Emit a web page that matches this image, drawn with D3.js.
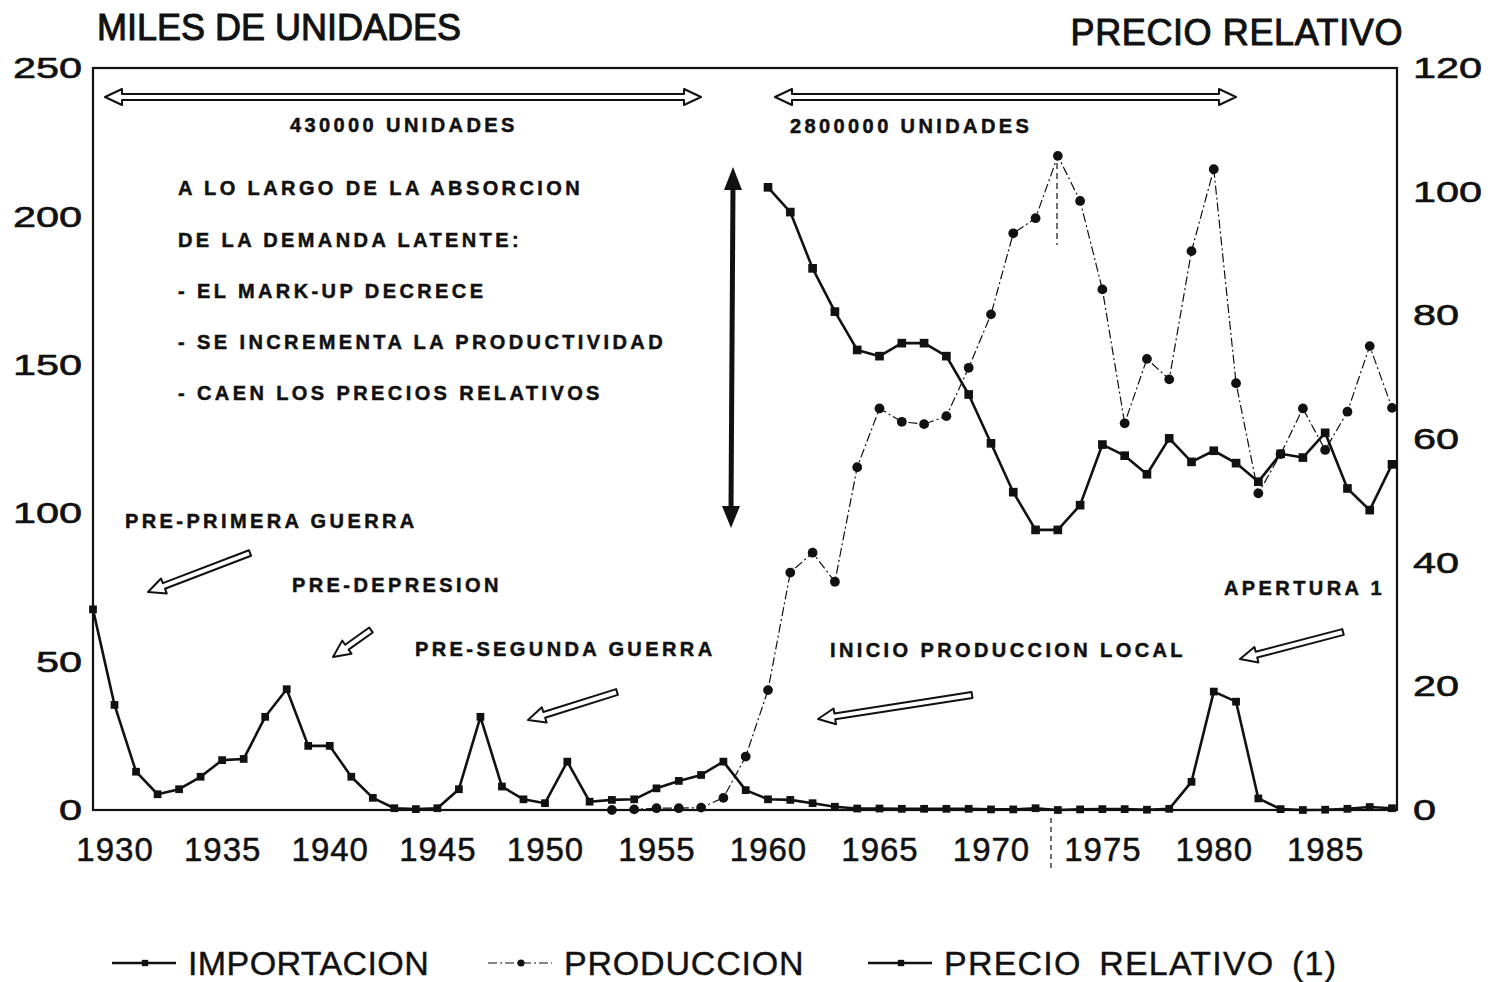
<!DOCTYPE html>
<html>
<head>
<meta charset="utf-8">
<script src="https://cdn.jsdelivr.net/npm/d3@7/dist/d3.min.js"></script>
<style>
  body { margin: 0; background: #fff; }
  svg text { font-family: "Liberation Sans", Arial, sans-serif; fill: #111; }
  .note { font-weight: bold; font-size: 20px; letter-spacing: 3.4px; stroke: #111; stroke-width: 0.5px; }
</style>
</head>
<body>
<div id="chart"></div>
<script>
// importaciones (miles de unidades)
const importYears = [1929, 1930, 1931, 1932, 1933, 1934, 1935, 1936, 1937, 1938, 1939, 1940,
    1941, 1942, 1943, 1944, 1945, 1946, 1947, 1948, 1949, 1950, 1951, 1952, 1953, 1954, 1955,
    1956, 1957, 1958, 1959, 1960, 1961, 1962, 1963, 1964, 1965, 1966, 1967, 1968, 1969, 1970,
    1971, 1972, 1973, 1974, 1975, 1976, 1977, 1978, 1979, 1980, 1981, 1982, 1983, 1984, 1985,
    1986, 1987, 1988];
const importacion = [67.6, 35.4, 12.9, 5.3, 7.0, 11.2, 16.8, 17.2, 31.4, 40.7, 21.6, 21.6,
    11.2, 4.1, 0.6, 0.3, 0.6, 7.0, 31.4, 7.9, 3.6, 2.3, 16.3, 2.8, 3.4, 3.6, 7.3,
    9.8, 11.8, 16.3, 6.7, 3.6, 3.4, 2.3, 1.1, 0.5, 0.5, 0.4, 0.4, 0.4, 0.4, 0.2,
    0.2, 0.6, 0.0, 0.2, 0.3, 0.3, 0.1, 0.4, 9.5, 39.9, 36.5, 3.9, 0.3, 0.0, 0.1,
    0.4, 1.0, 0.6];

// produccion local (miles de unidades)
const prodYears = [1953, 1954, 1955, 1956, 1957, 1958, 1959, 1960, 1961, 1962, 1963, 1964,
    1965, 1966, 1967, 1968, 1969, 1970, 1971, 1972, 1973, 1974, 1975, 1976, 1977, 1978,
    1979, 1980, 1981, 1982, 1983, 1984, 1985, 1986, 1987, 1988];
const produccion = [0.0, 0.2, 0.6, 0.6, 0.8, 4.1, 18.0, 40.4, 80.0, 86.7, 76.9, 115.5,
    135.3, 130.8, 130.0, 132.7, 149.0, 167.0, 194.3, 199.4, 220.4, 205.2, 175.4, 130.3, 152.0, 145.1,
    188.3, 215.9, 143.8, 106.7, 119.9, 135.3, 121.3, 134.2, 156.3, 135.5];

// precio relativo (eje derecho)
const precioYears = [1960, 1961, 1962, 1963, 1964, 1965, 1966, 1967, 1968, 1969, 1970, 1971,
    1972, 1973, 1974, 1975, 1976, 1977, 1978, 1979, 1980, 1981, 1982, 1983, 1984, 1985,
    1986, 1987, 1988];
const precio = [100.7, 96.7, 87.6, 80.6, 74.4, 73.4, 75.5, 75.5, 73.4, 67.2, 59.3, 51.4,
    45.3, 45.3, 49.3, 59.1, 57.3, 54.3, 60.1, 56.3, 58.1, 56.1, 53.1, 57.6, 57.0, 61.0,
    52.0, 48.5, 55.9];

// tick labels
const yearTicks = [1930, 1935, 1940, 1945, 1950, 1955, 1960, 1965, 1970, 1975, 1980, 1985];
const leftTicks = [0, 50, 100, 150, 200, 250];
const rightTicks = [0, 20, 40, 60, 80, 100, 120];

const legendLabels = ['IMPORTACION', 'PRODUCCION', 'PRECIO RELATIVO (1)'];

const W = 1500, H = 982;
const plot = {left: 93, right: 1397, top: 68, bottom: 810};

const svg = d3.select('#chart').append('svg')
    .attr('width', W)
    .attr('height', H);

// Scales (the scanned original is slightly uneven along x, so a piecewise scale)
const x = d3.scaleLinear()
    .domain([1929, 1950, 1970, 1988])
    .range([93, 545, 991, 1392]);
const yLeft = d3.scaleLinear().domain([0, 250]).range([plot.bottom, plot.top]);
const yRight = d3.scaleLinear().domain([0, 120]).range([plot.bottom, plot.top]);

// frame
svg.append('rect')
    .attr('x', plot.left).attr('y', plot.top)
    .attr('width', plot.right - plot.left).attr('height', plot.bottom - plot.top)
    .attr('fill', 'none').attr('stroke', '#111').attr('stroke-width', 2.2);

// Axes
const stretch = 1.38;
const xAxisG = svg.append('g')
    .attr('transform', `translate(0,${plot.bottom})`)
    .call(d3.axisBottom(x).tickValues(yearTicks).tickFormat(d3.format('d')).tickSize(0).tickPadding(28));
xAxisG.select('.domain').remove();
xAxisG.selectAll('text')
    .style('font-size', '33px').style('letter-spacing', '1px')
    .attr('fill', '#111').attr('stroke', '#111').attr('stroke-width', 0.5);

const yLeftG = svg.append('g')
    .attr('transform', `translate(${plot.left},0)`)
    .call(d3.axisLeft(yLeft).tickValues(leftTicks).tickSize(0));
yLeftG.select('.domain').remove();
yLeftG.selectAll('text')
    .style('font-size', '30px').attr('fill', '#111')
    .attr('stroke', '#111').attr('stroke-width', 0.6)
    .attr('x', -11 / stretch)
    .attr('transform', `scale(${stretch},1)`);

const yRightG = svg.append('g')
    .attr('transform', `translate(${plot.right},0)`)
    .call(d3.axisRight(yRight).tickValues(rightTicks).tickSize(0));
yRightG.select('.domain').remove();
yRightG.selectAll('text')
    .style('font-size', '30px').attr('fill', '#111')
    .attr('stroke', '#111').attr('stroke-width', 0.6)
    .attr('x', 16 / stretch)
    .attr('transform', `scale(${stretch},1)`);

// axis titles
svg.append('text').attr('x', 97).attr('y', 40)
    .style('font-size', '36px').attr('stroke', '#111').attr('stroke-width', 1)
    .text('MILES DE UNIDADES');
svg.append('text').attr('x', 1403).attr('y', 45).attr('text-anchor', 'end')
    .style('font-size', '36px').style('letter-spacing', '0.6px')
    .attr('stroke', '#111').attr('stroke-width', 1)
    .text('PRECIO RELATIVO');

// Series
const series = [
    {years: importYears, values: importacion, y: yLeft, width: 2.6, dash: null, symbol: d3.symbolSquare, size: 60},
    {years: prodYears, values: produccion, y: yLeft, width: 1.2, dash: '9,3,2,3', symbol: d3.symbolCircle, size: 75},
    {years: precioYears, values: precio, y: yRight, width: 2.6, dash: null, symbol: d3.symbolSquare, size: 75}
];

series.forEach(s => {
    const pts = s.years.map((yr, i) => [x(yr), s.y(s.values[i])]);
    svg.append('path')
        .attr('d', d3.line()(pts))
        .attr('fill', 'none')
        .attr('stroke', '#111')
        .attr('stroke-width', s.width)
        .attr('stroke-dasharray', s.dash)
        .attr('stroke-linejoin', 'round');
    svg.append('g').selectAll('path')
        .data(pts)
        .join('path')
        .attr('transform', d => `translate(${d[0]},${d[1]})`)
        .attr('d', d3.symbol().type(s.symbol).size(s.size))
        .attr('fill', '#111');
});

// hollow arrows -------------------------------------------------------
function arrowPoints(x1, y1, x2, y2, w, h, L, both) {
    const len = Math.hypot(x2 - x1, y2 - y1);
    const ux = (x2 - x1) / len, uy = (y2 - y1) / len;
    const nx = -uy, ny = ux;
    const p = (px, py, k) => [px + nx * k, py + ny * k];
    const n2x = x2 - ux * L, n2y = y2 - uy * L;
    if (!both) {
        return [p(x1, y1, w), p(n2x, n2y, w), p(n2x, n2y, h), [x2, y2],
            p(n2x, n2y, -h), p(n2x, n2y, -w), p(x1, y1, -w)];
    }
    const n1x = x1 + ux * L, n1y = y1 + uy * L;
    return [[x1, y1], p(n1x, n1y, h), p(n1x, n1y, w), p(n2x, n2y, w), p(n2x, n2y, h), [x2, y2],
        p(n2x, n2y, -h), p(n2x, n2y, -w), p(n1x, n1y, -w), p(n1x, n1y, -h)];
}
function hollowArrow(x1, y1, x2, y2, both) {
    const pts = arrowPoints(x1, y1, x2, y2, 3, 8, 17, both);
    svg.append('path')
        .attr('d', d3.line()(pts) + 'Z')
        .attr('fill', '#fff')
        .attr('stroke', '#111')
        .attr('stroke-width', 2)
        .attr('stroke-linejoin', 'round');
}

hollowArrow(105, 97, 701, 97, true);
hollowArrow(775, 97, 1236, 97, true);
hollowArrow(250, 553, 148, 592, false);
hollowArrow(371, 630, 333, 657, false);
hollowArrow(617, 692, 528, 720, false);
hollowArrow(972, 695, 818, 719, false);
hollowArrow(1343, 632, 1240, 659, false);

// thick vertical double arrow
svg.append('line')
    .attr('x1', 733).attr('y1', 185).attr('x2', 731).attr('y2', 510)
    .attr('stroke', '#111').attr('stroke-width', 5);
svg.append('path').attr('d', 'M733,167 L724,190 L742,190 Z').attr('fill', '#111');
svg.append('path').attr('d', 'M731,528 L722,506 L740,506 Z').attr('fill', '#111');

// faint dashed trace near 1973
svg.append('line').attr('x1', 1057).attr('y1', 163).attr('x2', 1057).attr('y2', 245)
    .attr('stroke', '#111').attr('stroke-width', 1.2).attr('stroke-dasharray', '6,4');
svg.append('line').attr('x1', 1051).attr('y1', 818).attr('x2', 1051).attr('y2', 870)
    .attr('stroke', '#111').attr('stroke-width', 1.2).attr('stroke-dasharray', '5,4');

// annotations
const notes = [
    {t: '430000 UNIDADES', x: 290, y: 132},
    {t: '2800000 UNIDADES', x: 790, y: 133},
    {t: 'A LO LARGO DE LA ABSORCION', x: 178, y: 195},
    {t: 'DE LA DEMANDA LATENTE:', x: 178, y: 247},
    {t: '- EL MARK-UP DECRECE', x: 178, y: 298},
    {t: '- SE INCREMENTA LA PRODUCTIVIDAD', x: 178, y: 349},
    {t: '- CAEN LOS PRECIOS RELATIVOS', x: 178, y: 400},
    {t: 'PRE-PRIMERA GUERRA', x: 125, y: 528},
    {t: 'PRE-DEPRESION', x: 292, y: 592},
    {t: 'PRE-SEGUNDA GUERRA', x: 415, y: 656},
    {t: 'INICIO PRODUCCION LOCAL', x: 830, y: 657},
    {t: 'APERTURA 1', x: 1224, y: 595}
];
svg.append('g').selectAll('text')
    .data(notes)
    .join('text')
    .attr('class', 'note')
    .attr('x', d => d.x)
    .attr('y', d => d.y)
    .text(d => d.t);

// Legend
const legend = svg.append('g');
const legendX = [112, 488, 868];
const legendSpacing = [0.4, 0.8, 1.2];
legendLabels.forEach((lab, i) => {
    const s = series[i];
    const g = legend.append('g').attr('transform', `translate(${legendX[i]},963)`);
    g.append('line')
        .attr('x1', 0).attr('x2', 64)
        .attr('stroke', '#111')
        .attr('stroke-width', s.width)
        .attr('stroke-dasharray', s.dash);
    g.append('path')
        .attr('transform', 'translate(33,0)')
        .attr('d', d3.symbol().type(s.symbol).size(40))
        .attr('fill', '#111');
    g.append('text')
        .attr('x', 76).attr('y', 12)
        .style('font-size', '34px')
        .style('letter-spacing', legendSpacing[i] + 'px')
        .style('word-spacing', i === 2 ? '7px' : '0px')
        .attr('stroke', '#111').attr('stroke-width', 0.4)
        .text(lab);
});
</script>
</body>
</html>
